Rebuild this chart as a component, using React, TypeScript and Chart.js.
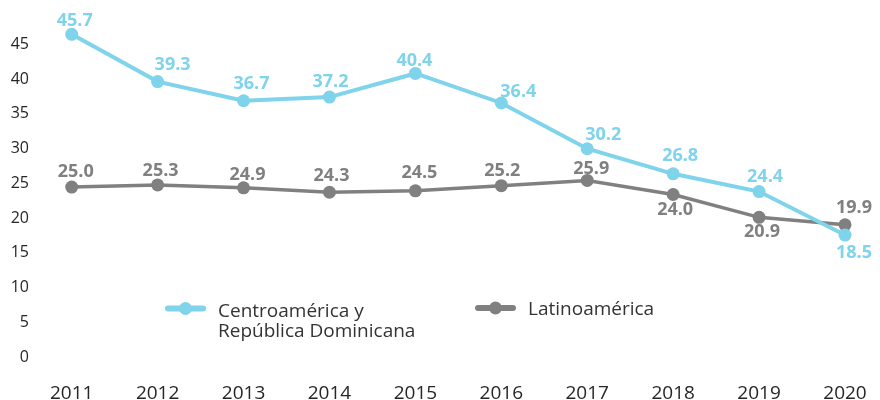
import React, { useEffect, useRef } from 'react';
import { Chart, registerables } from 'chart.js';

Chart.register(...registerables);

const years = ['2011', '2012', '2013', '2014', '2015', '2016', '2017', '2018', '2019', '2020'];
const centroamerica = [45.7, 39.3, 36.7, 37.2, 40.4, 36.4, 30.2, 26.8, 24.4, 18.5];
const latinoamerica = [25.0, 25.3, 24.9, 24.3, 24.5, 25.2, 25.9, 24.0, 20.9, 19.9];
const yTickValues = [0, 5, 10, 15, 20, 25, 30, 35, 40, 45];
const legendCentro = ['Centroamérica y', 'República Dominicana'];
const legendLatam = ['Latinoamérica'];

// label placement (style) relative to each point: [dx, dy]
const centroLabelOffsets = [[3, -13], [15, -17], [8, -17], [1, -15], [-1, -13], [17, -11], [16, -14], [7, -18], [6, -15], [9, 18]];
const latamLabelOffsets = [[4, -15], [3, -14], [4, -13], [2, -16], [4, -18], [1, -15], [4, -12], [2, 15], [3, 15], [9, -17]];

const CYAN = '#7fd3ea';
const GRAY = '#808080';
const TEXT = '#262626';
const FONT = '"Open Sans", sans-serif';

const labelsPlugin = {
  id: 'valueLabels',
  afterDatasetsDraw(chart: any) {
    const ctx = chart.ctx;
    ctx.save();
    ctx.font = `bold 18px ${FONT}`;
    ctx.textAlign = 'center';
    ctx.textBaseline = 'middle';
    chart.data.datasets.forEach((ds: any, di: number) => {
      const meta = chart.getDatasetMeta(di);
      const offs = di === 0 ? centroLabelOffsets : latamLabelOffsets;
      ctx.fillStyle = ds.borderColor;
      meta.data.forEach((pt: any, i: number) => {
        const v = ds.data[i] as number;
        ctx.fillText(v.toFixed(1), pt.x + offs[i][0], pt.y + offs[i][1]);
      });
    });
    ctx.restore();
  },
};

const legendPlugin = {
  id: 'customLegend',
  afterDraw(chart: any) {
    const ctx = chart.ctx;
    const items = [
      { color: CYAN, x0: 165, x1: 206, y: 308.5, text: legendCentro, tx: 218, ty: 316.5 },
      { color: GRAY, x0: 475, x1: 516, y: 308, text: legendLatam, tx: 528, ty: 315 },
    ];
    ctx.save();
    items.forEach((it) => {
      ctx.strokeStyle = it.color;
      ctx.lineWidth = 6;
      ctx.lineCap = 'round';
      ctx.beginPath();
      ctx.moveTo(it.x0 + 3, it.y);
      ctx.lineTo(it.x1 - 3, it.y);
      ctx.stroke();
      ctx.fillStyle = it.color;
      ctx.beginPath();
      ctx.arc((it.x0 + it.x1) / 2, it.y, 6.5, 0, Math.PI * 2);
      ctx.fill();
      ctx.fillStyle = '#333333';
      ctx.font = `19px ${FONT}`;
      ctx.textAlign = 'left';
      ctx.textBaseline = 'alphabetic';
      it.text.forEach((line, li) => ctx.fillText(line, it.tx, it.ty + li * 20));
    });
    ctx.restore();
  },
};

export default function App() {
  const ref = useRef<HTMLCanvasElement | null>(null);
  useEffect(() => {
    if (!ref.current) return;
    const chart = new Chart(ref.current, {
      type: 'line',
      data: {
        labels: years,
        datasets: [
          {
            label: legendCentro.join(' '),
            data: centroamerica,
            borderColor: CYAN,
            backgroundColor: CYAN,
            pointBackgroundColor: CYAN,
            borderWidth: 4,
            pointRadius: 6.5,
            pointBorderWidth: 0,
            tension: 0,
            clip: false as any,
            yAxisID: 'y',
          },
          {
            label: legendLatam.join(' '),
            data: latinoamerica,
            borderColor: GRAY,
            backgroundColor: GRAY,
            pointBackgroundColor: GRAY,
            borderWidth: 3.5,
            pointRadius: 6.5,
            pointBorderWidth: 0,
            tension: 0,
            clip: false as any,
            yAxisID: 'y',
          },
        ],
      },
      options: {
        animation: false,
        responsive: false,
        devicePixelRatio: 1,
        layout: { padding: { top: 10, right: 35, left: 0, bottom: 0 } },
        plugins: { legend: { display: false }, tooltip: { enabled: false } },
        scales: {
          x: {
            offset: false,
            grid: { display: false },
            border: { display: false },
            ticks: { color: TEXT, font: { family: FONT, size: 19, lineHeight: 1.2 }, padding: 3, maxRotation: 0 },
            afterFit: (s: any) => {
              s.height = 28.4;
              s.paddingLeft = 0;
              s.paddingRight = 0;
            },
          },
          y: {
            display: false,
            min: 0,
            max: 49,
          },
          yAxis: {
            position: 'left',
            min: -2.1,
            max: 49.93,
            grid: { display: false },
            border: { display: false },
            afterBuildTicks: (s: any) => { s.ticks = yTickValues.map((v) => ({ value: v })); },
            ticks: { color: TEXT, font: { family: FONT, size: 16 }, padding: 34.7 },
            afterFit: (s: any) => {
              s.width = 71.7;
              s.paddingTop = 0;
              s.paddingBottom = 0;
            },
          },
        },
      },
      plugins: [labelsPlugin, legendPlugin],
    });
    return () => chart.destroy();
  }, []);
  return (
    <div style={{ position: 'fixed', left: 0, top: 0, width: 880, height: 400, background: '#fff' }}>
      <canvas ref={ref} width={880} height={400} style={{ display: 'block', width: 880, height: 400 }} />
    </div>
  );
}
